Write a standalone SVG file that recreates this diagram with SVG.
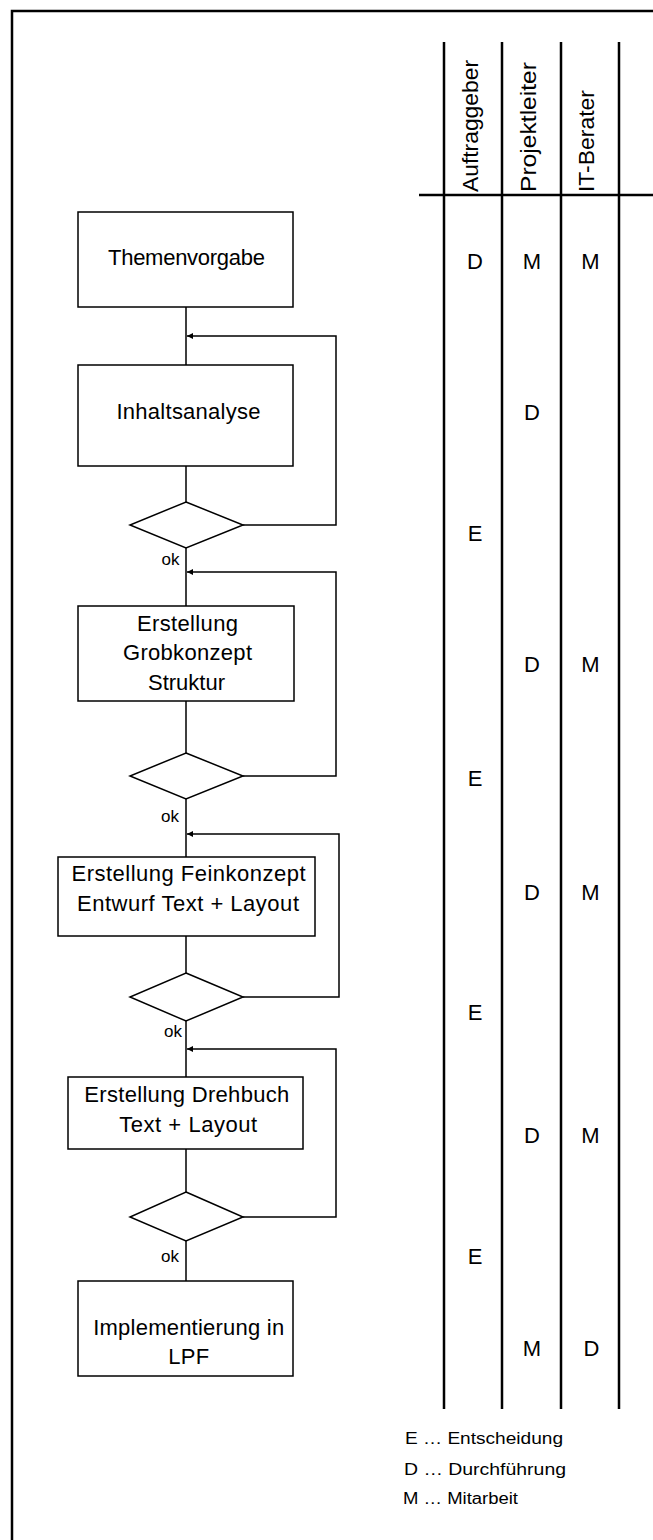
<svg xmlns="http://www.w3.org/2000/svg" width="653" height="1540" viewBox="0 0 653 1540">
<style>
.box{fill:#fff;stroke:#000;stroke-width:1.5}
.conn{fill:none;stroke:#000;stroke-width:1.5}
.grid{fill:none;stroke:#000;stroke-width:2.5}
.t{font-family:"Liberation Sans",Arial,sans-serif;font-size:22px;text-anchor:middle;fill:#000}
.hd{font-family:"Liberation Sans",Arial,sans-serif;font-size:22px;fill:#000}
.ok{font-family:"Liberation Sans",Arial,sans-serif;font-size:17px;fill:#000}
.lg{font-family:"Liberation Sans",Arial,sans-serif;font-size:16px;fill:#000}
</style>
<defs>
<marker id="ah" markerUnits="userSpaceOnUse" markerWidth="8" markerHeight="8" refX="6" refY="3" orient="auto">
<path d="M0,0 L6,3 L0,6 Z" fill="#000"/>
</marker>
</defs>
<rect x="0" y="0" width="653" height="1540" fill="#fff"/>
<path d="M12,1540 V11 H653" class="grid" stroke-width="2.2"/>
<g id="matrix">
<path d="M444,42 V1409 M502,42 V1409 M561,42 V1409 M619,42 V1409 M419,195 H653" class="grid"/>
<text class="hd" transform="translate(477.5,192) rotate(-90)" textLength="132" lengthAdjust="spacingAndGlyphs">Auftraggeber</text>
<text class="hd" transform="translate(535.5,192) rotate(-90)" textLength="130" lengthAdjust="spacingAndGlyphs">Projektleiter</text>
<text class="hd" transform="translate(593.5,192) rotate(-90)" textLength="102" lengthAdjust="spacingAndGlyphs">IT-Berater</text>
<g class="t" font-size="21">
<text x="475" y="269">D</text><text x="532" y="269">M</text><text x="590.5" y="269">M</text>
<text x="532" y="420">D</text>
<text x="475" y="541">E</text>
<text x="532" y="672">D</text><text x="590.5" y="672">M</text>
<text x="475" y="786">E</text>
<text x="532" y="900">D</text><text x="590.5" y="900">M</text>
<text x="475" y="1020">E</text>
<text x="532" y="1143">D</text><text x="590.5" y="1143">M</text>
<text x="475" y="1264">E</text>
<text x="532" y="1356">M</text><text x="591.5" y="1356">D</text>
</g>
</g>
<g id="connectors">
<path class="conn" d="M186,307 V365 M186,466 V502 M186,548 V606 M186,701 V753 M186,799 V857 M186,936 V973 M186,1021 V1077 M186,1149 V1192 M186,1241 V1281"/>
<path class="conn" d="M243,525 H336 V336 H187" marker-end="url(#ah)"/>
<path class="conn" d="M243,776 H336 V572 H187" marker-end="url(#ah)"/>
<path class="conn" d="M243,997 H339 V834 H187" marker-end="url(#ah)"/>
<path class="conn" d="M243,1217 H336 V1049 H187" marker-end="url(#ah)"/>
</g>
<g id="n1"><rect class="box" x="78" y="212" width="215" height="95"/><text class="t" x="186.5" y="265" textLength="157">Themenvorgabe</text></g>
<g id="n2"><rect class="box" x="78" y="365" width="215" height="101"/><text class="t" x="188.5" y="419" textLength="144">Inhaltsanalyse</text></g>
<g id="d1"><polygon class="box" points="186,502 243,525 186,548 130,525"/><text class="ok" x="161.5" y="565">ok</text></g>
<g id="n3"><rect class="box" x="78" y="606" width="216" height="95"/><text class="t" x="187.5" y="631" textLength="101">Erstellung</text><text class="t" x="187.5" y="660" textLength="129">Grobkonzept</text><text class="t" x="186.5" y="689.5">Struktur</text></g>
<g id="d2"><polygon class="box" points="186,753 243,776 186,799 130,776"/><text class="ok" x="161" y="822">ok</text></g>
<g id="n4"><rect class="box" x="58" y="857" width="257" height="79"/><text class="t" x="188.5" y="881" textLength="234">Erstellung Feinkonzept</text><text class="t" x="188" y="911" textLength="222">Entwurf Text + Layout</text></g>
<g id="d3"><polygon class="box" points="186,973 243,997 186,1021 130,997"/><text class="ok" x="164" y="1037">ok</text></g>
<g id="n5"><rect class="box" x="68" y="1077" width="235" height="72"/><text class="t" x="186.8" y="1102" textLength="205">Erstellung Drehbuch</text><text class="t" x="188.2" y="1131.5" textLength="138">Text + Layout</text></g>
<g id="d4"><polygon class="box" points="186,1192 243,1217 186,1241 130,1217"/><text class="ok" x="161" y="1262">ok</text></g>
<g id="n6"><rect class="box" x="78" y="1281" width="215" height="95"/><text class="t" x="188.7" y="1335" textLength="191">Implementierung in</text><text class="t" x="188.7" y="1363.5" textLength="41">LPF</text></g>
<g id="legend">
<text class="lg" x="405" y="1444" textLength="158" lengthAdjust="spacingAndGlyphs">E … Entscheidung</text>
<text class="lg" x="404" y="1475" textLength="162" lengthAdjust="spacingAndGlyphs">D … Durchführung</text>
<text class="lg" x="403" y="1504" textLength="115" lengthAdjust="spacingAndGlyphs">M … Mitarbeit</text>
</g>
</svg>
